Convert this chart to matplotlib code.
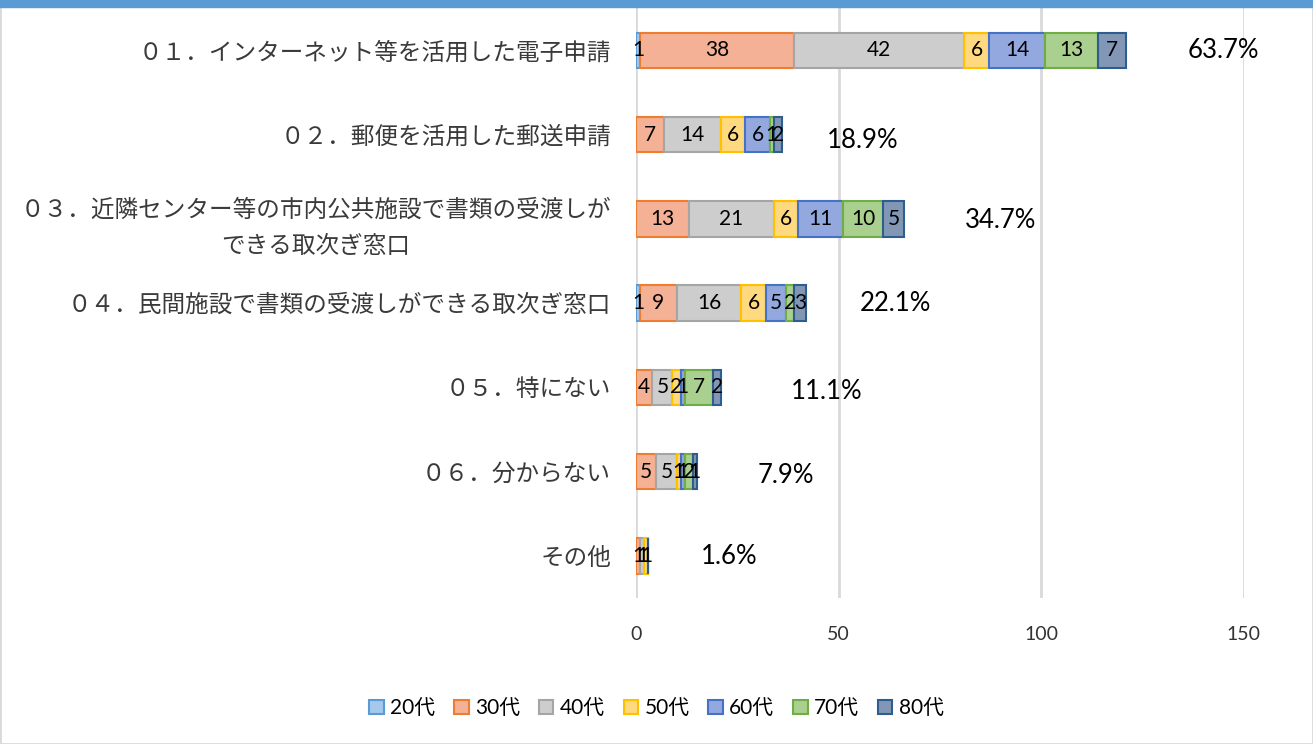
import numpy as np
import matplotlib.pyplot as plt
from matplotlib.patches import Rectangle

categories = [
    "０１．インターネット等を活用した電子申請",
    "０２．郵便を活用した郵送申請",
    "０３．近隣センター等の市内公共施設で書類の受渡しが\nできる取次ぎ窓口",
    "０４．民間施設で書類の受渡しができる取次ぎ窓口",
    "０５．特にない",
    "０６．分からない",
    "その他",
]
series_names = ["20代", "30代", "40代", "50代", "60代", "70代", "80代"]
age20 = [1, 0, 0, 1, 0, 0, 0]
age30 = [38, 7, 13, 9, 4, 5, 1]
age40 = [42, 14, 21, 16, 5, 5, 1]
age50 = [6, 6, 6, 6, 2, 1, 1]
age60 = [14, 6, 11, 5, 1, 1, 0]
age70 = [13, 1, 10, 2, 7, 2, 0]
age80 = [7, 2, 5, 3, 2, 1, 0]
pct_labels = ["63.7%", "18.9%", "34.7%", "22.1%", "11.1%", "7.9%", "1.6%"]

fills = ["#A6C8EA", "#F5B195", "#CDCDCD", "#FFD97F", "#93A8DE", "#A9D08E", "#8197B5"]
edges = ["#5B9BD5", "#ED7D31", "#A5A5A5", "#FFC000", "#4472C4", "#70AD47", "#2E5E90"]

series = [age20, age30, age40, age50, age60, age70, age80]

plt.rcParams['font.family'] = ['Lato', 'Noto Sans CJK JP', 'DejaVu Sans']

fig = plt.figure(figsize=(13.13, 7.44), dpi=100)
ax = fig.add_axes([0.4844, 0.196, 0.4630, 0.793])

y = np.arange(len(categories))
left = np.zeros(len(categories))
for name, vals, fc, ec in zip(series_names, series, fills, edges):
    vals = np.array(vals, dtype=float)
    bars = ax.barh(y, vals, left=left, height=0.42, color=fc, edgecolor=ec,
                   linewidth=1.5, label=name, zorder=3)
    for b, v in zip(bars, vals):
        if v > 0:
            ax.text(b.get_x() + b.get_width() / 2, b.get_y() + b.get_height() / 2,
                    f"{int(v)}", ha="center", va="center", fontsize=15,
                    color="black", zorder=4)
    left += vals

# percentage labels to the right of each bar
pct_offset = [24, 20, 24, 22, 26, 22, 20]
pct_dy = [0, 0.07, 0.02, 0, 0.05, 0.05, 0]
for i, (tot, lab) in enumerate(zip(left, pct_labels)):
    ax.text(tot + pct_offset[i], i + pct_dy[i], lab, ha="center", va="center",
            fontsize=18.5, color="black")

ax.set_xlim(0, 150)
ax.set_ylim(len(categories) - 0.5, -0.5)
ax.set_xticks([0, 50, 100, 150])
ax.set_yticks(y)
ax.set_yticklabels(categories, fontsize=17, color="#3A3A3A",
                   family=['Noto Sans CJK JP', 'DejaVu Sans'],
                   multialignment="center", linespacing=1.75)
ax.tick_params(axis="y", length=0, pad=18)
ax.tick_params(axis="x", length=0, pad=20, labelsize=14, colors="#333333")
ax.grid(axis="x", color="#D9D9D9", linewidth=2, zorder=0)
for s in ax.spines.values():
    s.set_visible(False)

ax.legend(loc="center", bbox_to_anchor=(0.5, 0.048), bbox_transform=fig.transFigure,
          ncol=7, frameon=False, fontsize=15, handlelength=0.7, handleheight=0.7,
          handletextpad=0.3, columnspacing=0.9)

# chart frame and top band
fig.patches.append(Rectangle((0, 0), 1, 1, transform=fig.transFigure, fill=False,
                             edgecolor="#D9D9D9", linewidth=2))
fig.patches.append(Rectangle((0, 0.99), 1, 0.01, transform=fig.transFigure,
                             color="#5B9BD5", zorder=5))

fig.savefig("out.png", dpi=100)
